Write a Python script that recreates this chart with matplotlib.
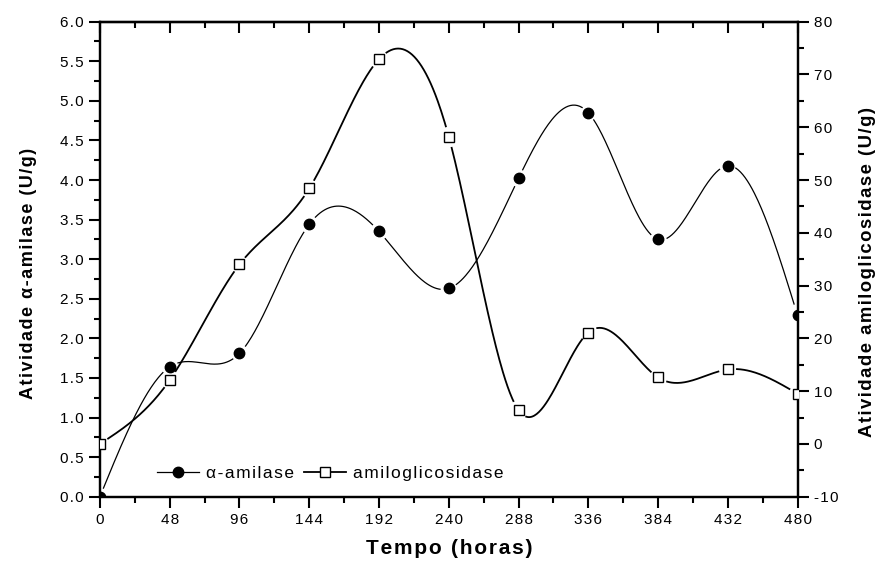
import numpy as np
import matplotlib.pyplot as plt
from matplotlib.lines import Line2D
from matplotlib.ticker import MultipleLocator, FuncFormatter

plt.rcParams['font.family'] = ['Liberation Sans', 'DejaVu Sans']
plt.rcParams['axes.unicode_minus'] = False

# Data
tempo = [0, 48, 96, 144, 192, 240, 288, 336, 384, 432, 480]
alfa_amilase = [0.0, 1.64, 1.81, 3.44, 3.35, 2.63, 4.02, 4.85, 3.25, 4.18, 2.29]
amiloglicosidase = [0.0, 12.1, 34.0, 48.4, 72.9, 58.2, 6.4, 21.1, 12.6, 14.1, 9.5]

HAIR = '\u200a'


def spaced(s):
    # Origin spreads its letters a little; mimic with hair spaces
    return HAIR.join(s)


def natural_spline(x, y, n=600):
    # natural cubic spline through the measured points (Origin style smooth line)
    x = np.asarray(x, float)
    y = np.asarray(y, float)
    k = len(x)
    h = np.diff(x)
    A = np.zeros((k, k))
    b = np.zeros(k)
    A[0, 0] = A[-1, -1] = 1
    for i in range(1, k - 1):
        A[i, i - 1] = h[i - 1]
        A[i, i] = 2 * (h[i - 1] + h[i])
        A[i, i + 1] = h[i]
        b[i] = 3 * ((y[i + 1] - y[i]) / h[i] - (y[i] - y[i - 1]) / h[i - 1])
    c = np.linalg.solve(A, b)
    xs = np.linspace(x[0], x[-1], n)
    idx = np.clip(np.searchsorted(x, xs) - 1, 0, k - 2)
    dx = xs - x[idx]
    bb = (y[idx + 1] - y[idx]) / h[idx] - h[idx] * (2 * c[idx] + c[idx + 1]) / 3
    dd = (c[idx + 1] - c[idx]) / (3 * h[idx])
    ys = y[idx] + bb * dx + c[idx] * dx ** 2 + dd * dx ** 3
    return xs, ys


def gapped(ax, xs, ys, xp, yp, gap_px):
    # break the curve around each marker, as Origin does
    pts = ax.transData.transform(np.column_stack([xs, ys]))
    mk = ax.transData.transform(np.column_stack([xp, yp]))
    ys = ys.copy()
    for m in mk:
        d = np.hypot(pts[:, 0] - m[0], pts[:, 1] - m[1])
        ys[d < gap_px] = np.nan
    return ys


fig = plt.figure(figsize=(8.8, 5.63), dpi=100)
ax = fig.add_axes([0.1136, 0.1178, 0.7927, 0.8437])
ax2 = ax.twinx()

ax.set_xlim(0, 480)
ax.set_ylim(0, 6.0)
ax2.set_ylim(-10, 80)

xs, ys = natural_spline(tempo, alfa_amilase)
ax.plot(xs, gapped(ax, xs, ys, tempo, alfa_amilase, 8), color='black', lw=0.9)
ax.plot(tempo, alfa_amilase, 'o', color='black', ms=7.5, zorder=3)

xs2, ys2 = natural_spline(tempo, amiloglicosidase)
ax2.plot(xs2, gapped(ax2, xs2, ys2, tempo, amiloglicosidase, 9), color='black', lw=1.3)
ax2.plot(tempo, amiloglicosidase, 's', mfc='white', mec='black', mew=1.0, ms=7, zorder=3)

# axes styling
for a in (ax, ax2):
    for s in a.spines.values():
        s.set_linewidth(1.6)

ax.xaxis.set_major_locator(MultipleLocator(48))
ax.xaxis.set_minor_locator(MultipleLocator(24))
ax.xaxis.set_major_formatter(FuncFormatter(lambda v, p: spaced('%d' % v)))
ax.yaxis.set_major_locator(MultipleLocator(0.5))
ax.yaxis.set_minor_locator(MultipleLocator(0.25))
ax.yaxis.set_major_formatter(FuncFormatter(lambda v, p: spaced('%.1f' % v)))
ax2.yaxis.set_major_locator(MultipleLocator(10))
ax2.yaxis.set_minor_locator(MultipleLocator(5))
ax2.yaxis.set_major_formatter(FuncFormatter(lambda v, p: spaced('%d' % v)))

ax.tick_params(which='major', direction='out', length=8, width=1.5, labelsize=11)
ax.tick_params(which='minor', direction='out', length=4, width=1.5)
ax2.tick_params(which='major', direction='out', length=8, width=1.5, labelsize=11)
ax2.tick_params(which='minor', direction='out', length=4, width=1.5)

top = ax.secondary_xaxis('top')
top.xaxis.set_major_locator(MultipleLocator(48))
top.xaxis.set_minor_locator(MultipleLocator(24))
top.tick_params(which='major', direction='in', length=8, width=1.5, labeltop=False)
top.tick_params(which='minor', direction='in', length=4, width=1.5)
top.spines['top'].set_linewidth(1.6)

ax.set_xlabel(spaced('Tempo (horas)'), fontsize=15, fontweight='bold', labelpad=9)
ax.set_ylabel(spaced('Atividade α-amilase (U/g)'), fontsize=13, fontweight='bold', labelpad=17)
ax2.set_ylabel(spaced('Atividade amiloglicosidase (U/g)'), fontsize=13.3, fontweight='bold', labelpad=15)
# Origin centres these a little below the middle of the axis
ax.yaxis.label.set_y(0.469)
ax2.yaxis.label.set_y(0.473)

handles = [
    Line2D([], [], color='black', lw=0.9, marker='o', ms=7.5),
    Line2D([], [], color='black', lw=1.3, marker='s', mfc='white', ms=7),
]
ax.legend(handles, [spaced('α-amilase'), spaced('amiloglicosidase')], ncol=2, frameon=False,
          loc='lower left', bbox_to_anchor=(0.06, 0.0), fontsize=12.5,
          handlelength=2.4, columnspacing=0.6, handletextpad=0.4)

fig.savefig('out.png', dpi=100)
